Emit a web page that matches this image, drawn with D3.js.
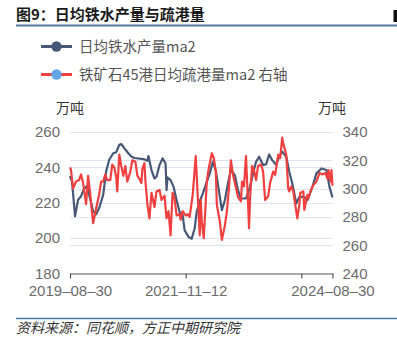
<!DOCTYPE html>
<html lang="zh-CN">
<head>
<meta charset="utf-8">
<script src="https://cdn.jsdelivr.net/npm/d3@7/dist/d3.min.js"></script>
<style>
  html, body { margin: 0; padding: 0; background: #fff; }
  svg { display: block; }
  text { font-family: "Liberation Sans", "Noto Sans CJK SC", sans-serif; }
  .cjk { font-family: "Noto Sans CJK SC", sans-serif; }
</style>
</head>
<body>
<svg id="chart" width="397" height="337"></svg>
<script>
// Weekly observations, indexed by week since 2019-08-30 (week 261 = 2024-08-30)
const startDate = "2019-08-30";

// 日均铁水产量ma2 (万吨, left axis)
const hotMetalWeek = [0, 2, 5, 8, 11, 14, 17, 19, 23, 26, 29, 33, 36, 39, 43, 46, 49, 51, 54, 58, 61, 64, 73, 77, 78, 81, 84, 86, 89, 92, 95, 96, 97, 100, 103, 106, 109, 112, 114, 118, 121, 124, 126, 129, 132, 136, 139, 142, 145, 148, 151, 154, 157, 160, 164, 167, 170, 175, 179, 182, 185, 188, 192, 195, 198, 201, 205, 208, 211, 215, 218, 221, 225, 228, 233, 236, 241, 245, 250, 255, 258, 261];
const hotMetalValue = [235, 232, 212.4, 221.6, 223.7, 228, 229.4, 224.5, 215.2, 213.5, 217, 224.5, 237.9, 244.3, 248, 248.6, 252.8, 253.2, 250.9, 248, 246.2, 245.3, 244.7, 243.7, 246.4, 238.5, 233.7, 234.7, 241.3, 245.1, 242.2, 227.1, 234.3, 232.8, 229, 221.4, 214.8, 213, 204.4, 200.6, 199.7, 205.6, 215, 220.7, 225.2, 231.8, 236.6, 243.2, 238, 227.1, 215.8, 221.4, 230.9, 238.5, 235.5, 227.1, 222.4, 222.4, 229, 236.6, 243.2, 246, 241.3, 241.8, 247.3, 244.1, 241.5, 246, 248.9, 246, 237.5, 230.9, 219.6, 223.3, 223.3, 221.4, 229, 236.6, 239.4, 238.5, 229, 223];

// 铁矿石45港日均疏港量ma2 (万吨, right axis)
const portWeek = [0, 1, 3, 6, 9, 11, 13, 16, 18, 20, 23, 26, 29, 31, 33, 35, 37, 40, 42, 44, 46, 47, 49, 51, 53, 55, 57, 60, 62, 65, 67, 69, 71, 72, 74, 75, 77, 79, 81, 84, 86, 89, 91, 94, 96, 98, 100, 102, 104, 106, 109, 110, 112, 115, 117, 119, 122, 125, 127, 129, 130, 131, 133, 135, 136, 138, 141, 143, 145, 146, 149, 151, 154, 156, 158, 160, 162, 164, 167, 170, 171, 173, 175, 177, 178, 179, 181, 183, 185, 187, 190, 192, 194, 197, 199, 202, 204, 207, 209, 211, 212, 215, 217, 218, 220, 222, 224, 226, 228, 229, 232, 233, 236, 237, 239, 242, 245, 248, 251, 254, 256, 257, 259, 260, 261];
const portValue = [315, 313, 300, 305, 306, 310, 304, 289, 309, 297, 275.5, 286, 296, 305, 305, 310, 306, 306, 317, 315, 308, 298, 324, 316, 309, 316, 305, 312, 320, 319, 309, 307, 304, 314, 318, 305, 288.5, 279, 297, 287, 298, 299, 292, 295, 279, 284, 267, 297, 293, 281, 282, 278, 284, 281, 282, 280, 295.5, 323, 295, 267, 292, 277, 265, 291, 305, 314.5, 325, 321.6, 312, 288.5, 276.7, 263.7, 274, 284, 300, 320, 310, 304, 294, 291, 305, 301.5, 323, 291, 272, 292, 316, 313, 306, 316, 317, 312, 292, 294.5, 304, 312, 309.7, 324, 321.6, 336, 332, 324, 300, 298, 301.5, 298, 288.5, 279, 288.5, 297, 298, 285, 295.5, 293, 298, 302.6, 305, 311, 310, 311, 307, 313, 305, 313, 302];

// Axis ticks
const leftTicks = [180, 200, 220, 240, 260];
const rightTicks = [240, 260, 280, 300, 320, 340];
const xTickWeeks = [0, 115, 230, 261];
const xLabelWeeks = [0, 115, 261];

const legendNames = ["日均铁水产量ma2", "铁矿石45港日均疏港量ma2 右轴"];
const titleText = "图9：日均铁水产量与疏港量";
const sourceText = "资料来源：同花顺，方正中期研究院";
const unitText = "万吨";

const colors = { hotMetal: "#475876", port: "#f03f3f", portDot: "#64a6e4", grid: "#dde2ee", axis: "#555", label: "#6b6b6b", rule: "#4d7c9e" };

const t0 = d3.utcParse("%Y-%m-%d")(startDate);
const weekDate = w => d3.utcDay.offset(t0, w * 7);

const svg = d3.select("#chart");
const plot = { left: 70, right: 332.5, top: 132, bottom: 273.5 };

const x = d3.scaleUtc().domain([weekDate(0), weekDate(261)]).range([plot.left, plot.right]);
const yL = d3.scaleLinear().domain([180, 260]).range([plot.bottom, plot.top]);
const yR = d3.scaleLinear().domain([240, 340]).range([plot.bottom, plot.top]);

// Title and rule
svg.append("text").attr("class", "cjk").attr("x", 16).attr("y", 20)
  .attr("font-size", 15).attr("font-weight", "bold").attr("fill", "#1a1a1a")
  .text(titleText);
svg.append("line").attr("x1", 16).attr("x2", 397).attr("y1", 25.5).attr("y2", 25.5)
  .attr("stroke", colors.rule).attr("stroke-width", 2);
svg.append("rect").attr("x", 393.5).attr("y", 10).attr("width", 3.5).attr("height", 12).attr("fill", "#111");

// Legend
const legend = svg.append("g");
[[colors.hotMetal, colors.hotMetal], [colors.port, colors.portDot]].forEach((c, i) => {
  const ly = 46.5 + i * 28;
  legend.append("line").attr("x1", 41).attr("x2", 72).attr("y1", ly).attr("y2", ly)
    .attr("stroke", c[0]).attr("stroke-width", 3);
  legend.append("circle").attr("cx", 56.5).attr("cy", ly).attr("r", 5.2).attr("fill", c[1]);
  legend.append("text").attr("class", "cjk").attr("x", 79).attr("y", ly + 5.2)
    .attr("font-size", 14.5).attr("fill", "#555").text(legendNames[i]);
});

// Grid lines for both axes
const grid = svg.append("g");
leftTicks.slice(1).forEach(v => {
  grid.append("line").attr("x1", plot.left).attr("x2", plot.right)
    .attr("y1", Math.round(yL(v)) + 0.5).attr("y2", Math.round(yL(v)) + 0.5)
    .attr("stroke", colors.grid).attr("stroke-width", 1);
});
rightTicks.slice(1).forEach(v => {
  grid.append("line").attr("x1", plot.left).attr("x2", plot.right)
    .attr("y1", Math.round(yR(v)) + 0.5).attr("y2", Math.round(yR(v)) + 0.5)
    .attr("stroke", colors.grid).attr("stroke-width", 1);
});

// Left axis labels
const leftAxis = svg.append("g").attr("transform", `translate(${plot.left - 10},0)`)
  .call(d3.axisLeft(yL).tickValues(leftTicks).tickSize(0).tickPadding(0));
leftAxis.select(".domain").remove();
leftAxis.selectAll("text").attr("font-size", 15).attr("fill", colors.label)
  .style("font-family", "'Liberation Sans', sans-serif");

// Right axis labels
const rightAxis = svg.append("g").attr("transform", `translate(${plot.right + 10},0)`)
  .call(d3.axisRight(yR).tickValues(rightTicks).tickSize(0).tickPadding(0));
rightAxis.select(".domain").remove();
rightAxis.selectAll("text").attr("font-size", 15).attr("fill", colors.label)
  .style("font-family", "'Liberation Sans', sans-serif");

// Units
svg.append("text").attr("class", "cjk").attr("x", 70).attr("y", 112.5).attr("text-anchor", "middle")
  .attr("font-size", 14).attr("fill", "#333").text(unitText);
svg.append("text").attr("class", "cjk").attr("x", 332).attr("y", 112.5).attr("text-anchor", "middle")
  .attr("font-size", 14).attr("fill", "#333").text(unitText);

// Bottom axis
const xAxis = svg.append("g").attr("transform", `translate(0,${plot.bottom})`)
  .call(d3.axisBottom(x).tickValues(xTickWeeks.map(weekDate)).tickSizeOuter(0).tickSizeInner(5)
    .tickFormat(d => {
      const w = Math.round((d - t0) / (7 * 864e5));
      return xLabelWeeks.includes(w) ? d3.utcFormat("%Y–%m–%d")(d) : "";
    }));
xAxis.select(".domain").attr("stroke", colors.axis).attr("stroke-width", 1.2);
xAxis.selectAll(".tick line").attr("stroke", colors.axis).attr("stroke-width", 1.2);
xAxis.selectAll("text").attr("font-size", 15).attr("fill", colors.label).attr("dy", "0.95em")
  .style("font-family", "'Liberation Sans', sans-serif");

// Series lines (red drawn above blue)
const hotLine = d3.line().x((d, i) => x(weekDate(hotMetalWeek[i]))).y(d => yL(d)).curve(d3.curveLinear);
const portLine = d3.line().x((d, i) => x(weekDate(portWeek[i]))).y(d => yR(d)).curve(d3.curveLinear);

svg.append("path").datum(hotMetalValue).attr("d", hotLine)
  .attr("fill", "none").attr("stroke", colors.hotMetal).attr("stroke-width", 2.2)
  .attr("stroke-linejoin", "round");
svg.append("path").datum(portValue).attr("d", portLine)
  .attr("fill", "none").attr("stroke", colors.port).attr("stroke-width", 2.2)
  .attr("stroke-linejoin", "round");

// Footer rule and source
svg.append("line").attr("x1", 16).attr("x2", 397).attr("y1", 318.5).attr("y2", 318.5)
  .attr("stroke", colors.rule).attr("stroke-width", 1.5);
svg.append("text").attr("class", "cjk").attr("x", 16).attr("y", 332.5)
  .attr("font-size", 14).attr("font-style", "italic").attr("fill", "#333")
  .text(sourceText);
</script>
</body>
</html>
